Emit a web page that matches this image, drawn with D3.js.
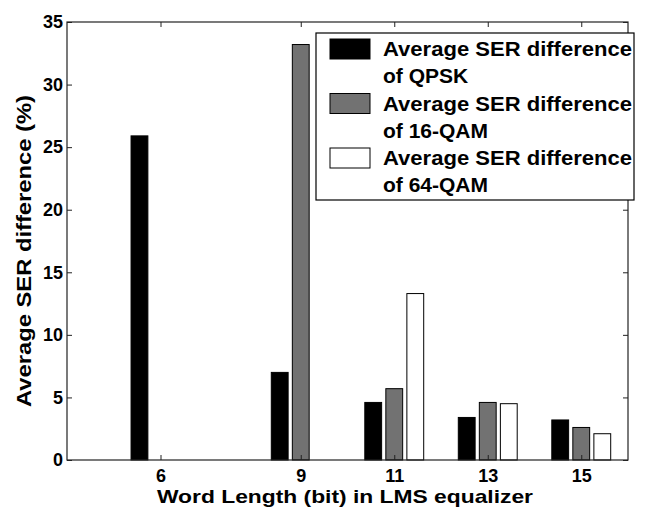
<!DOCTYPE html>
<html><head><meta charset="utf-8">
<script src="https://cdn.jsdelivr.net/npm/d3@7"></script>
<style>body{margin:0;background:#fff}svg{display:block}text{font-family:"Liberation Sans",Arial,sans-serif;font-weight:bold;fill:#000}</style>
</head><body>
<script>
const wordLengths = [6, 9, 11, 13, 15];
const qpsk   = [25.9, 7.0, 4.6, 3.4, 3.2];
const qam16  = [0, 33.2, 5.7, 4.6, 2.6];
const qam64  = [0, 0, 13.3, 4.5, 2.1];
const seriesNames = ["Average SER difference|of QPSK", "Average SER difference|of 16-QAM", "Average SER difference|of 64-QAM"];
const seriesFills = ["#000000", "#727272", "#ffffff"];
const yTicks = [0, 5, 10, 15, 20, 25, 30, 35];
const xLabel = "Word Length (bit) in LMS equalizer";
const yLabel = "Average SER difference (%)";

(function () {
const W = 653, H = 509;
const svg = d3.select("body").append("svg").attr("width", W).attr("height", H);
const pL = 67, pR = 628, pT = 22, pB = 460;
const x = d3.scaleLinear().domain([4, 16]).range([pL, pR]);
const y = d3.scaleLinear().domain([0, 35]).range([pB, pT]);

const series = [qpsk, qam16, qam64];
const offsets = [-0.45, 0, 0.45];
const bw = 0.36;

series.forEach((vals, si) => {
  svg.append("g").selectAll("rect").data(wordLengths.map((w, i) => ({w, v: vals[i]})).filter(d => d.v > 0))
    .join("rect")
    .attr("x", d => x(d.w + offsets[si] - bw / 2))
    .attr("width", d => x(d.w + offsets[si] + bw / 2) - x(d.w + offsets[si] - bw / 2))
    .attr("y", d => y(d.v))
    .attr("height", d => y(0) - y(d.v))
    .attr("fill", seriesFills[si])
    .attr("stroke", "#000").attr("stroke-width", 1);
});

svg.append("rect").attr("x", pL).attr("y", pT).attr("width", pR - pL).attr("height", pB - pT)
  .attr("fill", "none").attr("stroke", "#222").attr("stroke-width", 1.2);

const gy = svg.append("g").attr("transform", `translate(${pL},0)`).call(d3.axisLeft(y).tickValues(yTicks).tickSize(-5).tickPadding(4));
gy.select(".domain").remove();
gy.selectAll("text").style("font-size", "18px");
const gyr = svg.append("g").attr("transform", `translate(${pR},0)`).call(d3.axisRight(y).tickValues(yTicks).tickSize(-5).tickFormat(""));
gyr.select(".domain").remove();

const gx = svg.append("g").attr("transform", `translate(0,${pB})`).call(d3.axisBottom(x).tickValues(wordLengths).tickSize(-5).tickPadding(9));
gx.select(".domain").remove();
gx.selectAll("text").style("font-size", "18px");
const gxt = svg.append("g").attr("transform", `translate(0,${pT})`).call(d3.axisTop(x).tickValues(wordLengths).tickSize(-5).tickFormat(""));
gxt.select(".domain").remove();
svg.selectAll(".tick line").attr("stroke", "#222");

svg.append("text").attr("x", 345).attr("y", 503).attr("text-anchor", "middle")
  .style("font-size", "19px").attr("textLength", 376).attr("lengthAdjust", "spacingAndGlyphs").text(xLabel);
svg.append("text").attr("transform", "translate(31,251) rotate(-90)").attr("text-anchor", "middle")
  .style("font-size", "20px").attr("textLength", 312).attr("lengthAdjust", "spacingAndGlyphs").text(yLabel);

const lg = svg.append("g");
lg.append("rect").attr("x", 316).attr("y", 33).attr("width", 318).attr("height", 167)
  .attr("fill", "#fff").attr("stroke", "#000").attr("stroke-width", 1.2);
seriesNames.forEach((name, i) => {
  const base = 56 + i * 54.5;
  lg.append("rect").attr("x", 330).attr("y", base - 17).attr("width", 40).attr("height", 20)
    .attr("fill", seriesFills[i]).attr("stroke", "#000").attr("stroke-width", 1);
  name.split("|").forEach((line, j) => {
    const t = lg.append("text").attr("x", 383).attr("y", base + j * 27).style("font-size", "21px").text(line);
    if (j === 0) t.attr("textLength", 249).attr("lengthAdjust", "spacingAndGlyphs");
  });
});
})();
</script>
</body></html>
